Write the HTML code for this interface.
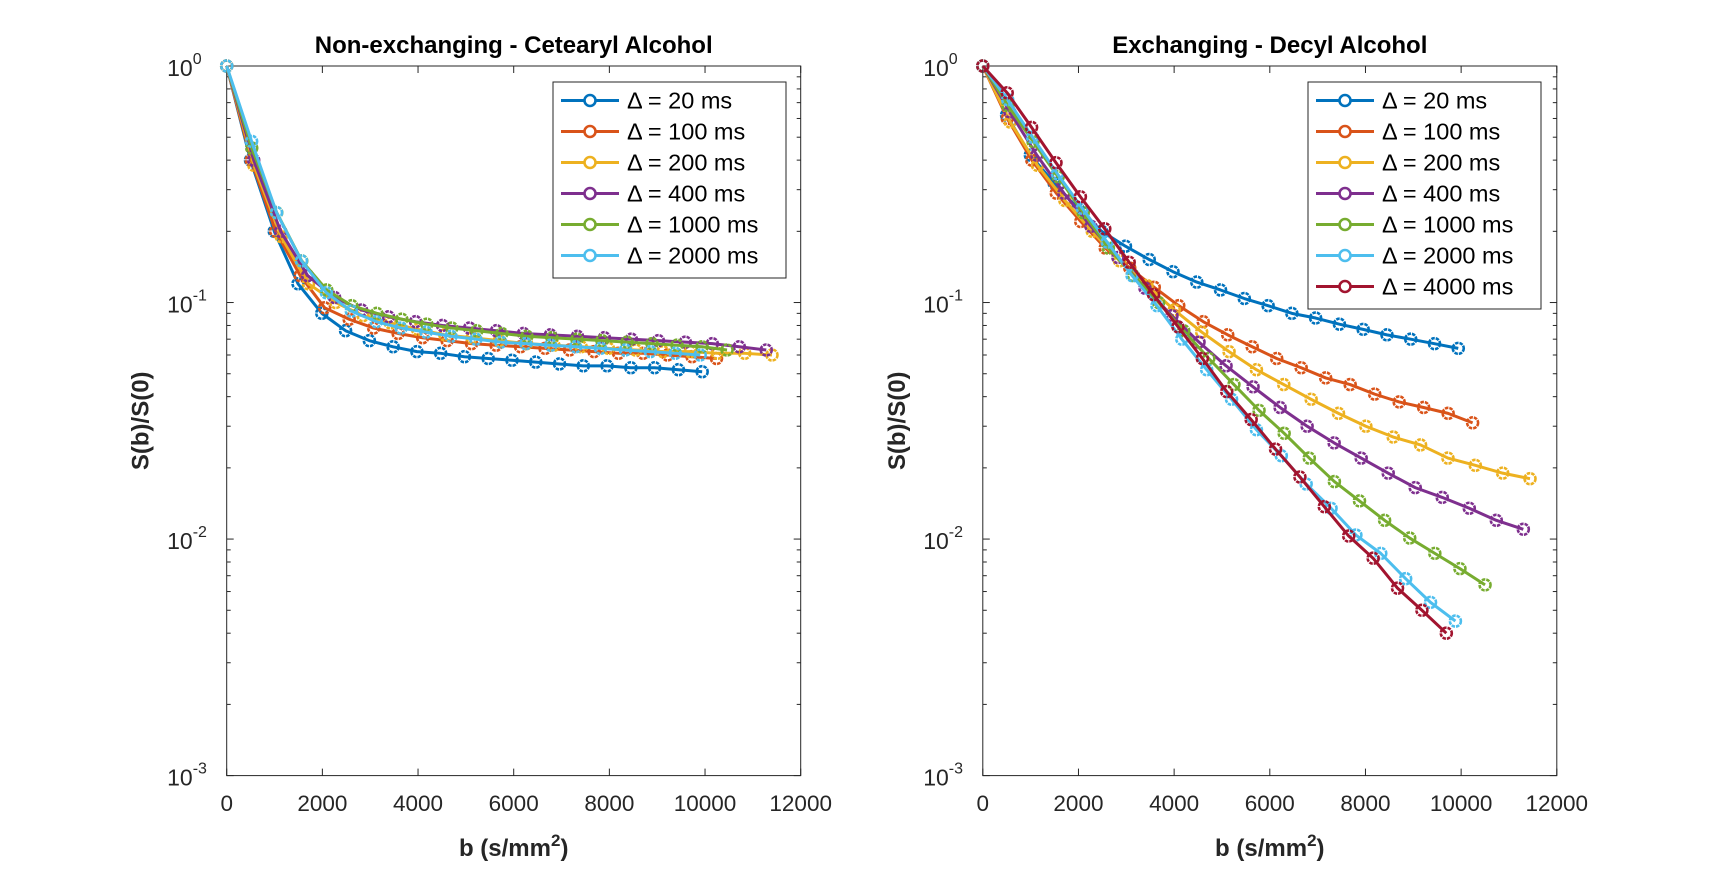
<!DOCTYPE html>
<html><head><meta charset="utf-8"><style>
body{margin:0;background:#fff;}
svg{display:block;font-family:"Liberation Sans",Arial,sans-serif;}
</style></head><body>
<svg id="fig" width="1720" height="876" viewBox="0 0 1720 876"></svg>
<script>
const colors=['#0072BD','#D95319','#EDB120','#7E2F8E','#77AC30','#4DBEEE','#A2142F'];
const labelsL=['Δ = 20 ms','Δ = 100 ms','Δ = 200 ms','Δ = 400 ms','Δ = 1000 ms','Δ = 2000 ms'];
const labelsR=['Δ = 20 ms','Δ = 100 ms','Δ = 200 ms','Δ = 400 ms','Δ = 1000 ms','Δ = 2000 ms','Δ = 4000 ms'];
const xTicks=[0,2000,4000,6000,8000,10000,12000];
const yTickExp=[0,-1,-2,-3];
const bStepL=[497,512,570,564,523,521];
const bStepR=[497,512,572,565,525,520,510];
const left0=[1,0.4,0.2,0.12,0.09,0.076,0.069,0.065,0.062,0.061,0.059,0.058,0.057,0.056,0.055,0.054,0.054,0.053,0.053,0.052,0.051];
const left1=[1,0.4,0.2,0.13,0.095,0.085,0.078,0.074,0.071,0.069,0.067,0.066,0.065,0.064,0.063,0.062,0.061,0.061,0.060,0.059,0.058];
const left2=[1,0.38,0.19,0.12,0.1,0.088,0.082,0.077,0.073,0.071,0.069,0.067,0.066,0.065,0.064,0.063,0.062,0.062,0.061,0.061,0.060];
const left3=[1,0.4,0.2,0.13,0.105,0.093,0.087,0.083,0.08,0.078,0.076,0.074,0.073,0.072,0.071,0.07,0.069,0.068,0.067,0.065,0.063];
const left4=[1,0.45,0.24,0.15,0.113,0.097,0.09,0.085,0.081,0.078,0.076,0.074,0.072,0.071,0.07,0.069,0.068,0.067,0.066,0.065,0.063];
const left5=[1,0.48,0.24,0.15,0.11,0.092,0.083,0.078,0.075,0.072,0.07,0.068,0.067,0.066,0.065,0.064,0.063,0.062,0.061,0.06];
const right0=[1,0.62,0.42,0.32,0.25,0.2,0.173,0.152,0.135,0.122,0.113,0.104,0.097,0.09,0.086,0.081,0.077,0.073,0.07,0.067,0.064];
const right1=[1,0.6,0.4,0.29,0.22,0.17,0.14,0.116,0.097,0.083,0.073,0.065,0.058,0.053,0.048,0.045,0.041,0.038,0.036,0.034,0.031];
const right2=[1,0.58,0.38,0.27,0.2,0.15,0.118,0.093,0.075,0.062,0.052,0.045,0.039,0.034,0.030,0.027,0.025,0.022,0.0205,0.019,0.018];
const right3=[1,0.64,0.42,0.29,0.21,0.155,0.115,0.088,0.068,0.054,0.044,0.036,0.030,0.0255,0.022,0.019,0.0165,0.015,0.0135,0.012,0.011];
const right4=[1,0.68,0.48,0.34,0.24,0.17,0.13,0.1,0.076,0.058,0.045,0.035,0.028,0.022,0.0175,0.0145,0.012,0.0101,0.0087,0.0075,0.0064];
const right5=[1,0.72,0.5,0.35,0.25,0.18,0.13,0.097,0.07,0.052,0.039,0.029,0.0225,0.0171,0.0135,0.0104,0.0087,0.0068,0.0054,0.0045];
const right6=[1,0.77,0.55,0.39,0.28,0.205,0.148,0.108,0.079,0.058,0.042,0.032,0.024,0.0183,0.0137,0.0103,0.0083,0.0062,0.005,0.004];
const seriesL=[left0,left1,left2,left3,left4,left5];
const seriesR=[right0,right1,right2,right3,right4,right5,right6];

const NS='http://www.w3.org/2000/svg';
const svg=document.getElementById('fig');
function mk(tag,attrs,parent){const e=document.createElementNS(NS,tag);for(const k in attrs)e.setAttribute(k,attrs[k]);(parent||svg).appendChild(e);return e;}

function panel(px0,title,series,steps,labels,legend,pname){
  const g=mk('g',{});
  
  
  const X0=px0,X1=px0+574,Y0=66,Y1=775.6;
  const xs=v=>X0+(v/12000)*(X1-X0);
  const ys=v=>Y0+(-Math.log10(v)/3)*(Y1-Y0);
  const box=mk('rect',{x:X0,y:Y0,width:X1-X0,height:Y1-Y0,fill:'#fff',stroke:'#262626','stroke-width':1},g);
  
  
  xTicks.forEach(t=>{
    const x=xs(t);
    mk('line',{x1:x,y1:Y1,x2:x,y2:Y1-7,stroke:'#262626'},g);
    mk('line',{x1:x,y1:Y0,x2:x,y2:Y0+7,stroke:'#262626'},g);
    const tx=mk('text',{x:x,y:811,'font-size':22.5,'text-anchor':'middle',fill:'#262626'},g);
    tx.textContent=t;
    
    
  });
  yTickExp.forEach(e=>{
    const y=ys(Math.pow(10,e));
    mk('line',{x1:X0,y1:y,x2:X0+7,y2:y,stroke:'#262626'},g);
    mk('line',{x1:X1,y1:y,x2:X1-7,y2:y,stroke:'#262626'},g);
    const tx=mk('text',{x:X0-34,y:y+10,'font-size':23,'text-anchor':'end',fill:'#262626'},g);
    tx.textContent='10';
    
    
    const sp=mk('text',{x:X0-34,y:y-2,'font-size':16,'text-anchor':'start',fill:'#262626'},g);
    sp.textContent=String(e);
    
    
    if(e>-3){for(let m=2;m<=9;m++){const yy=ys(m*Math.pow(10,e-1));
      mk('line',{x1:X0,y1:yy,x2:X0+4,y2:yy,stroke:'#262626'},g);
      mk('line',{x1:X1,y1:yy,x2:X1-4,y2:yy,stroke:'#262626'},g);}}
  });
  const tt=mk('text',{x:(X0+X1)/2,y:53,'font-size':24,'font-weight':'bold','text-anchor':'middle',fill:'#000'},g);
  tt.textContent=title;
  
  
  const xl=mk('text',{x:(X0+X1)/2,y:856,'font-size':24,'font-weight':'bold','text-anchor':'middle',fill:'#262626'},g);
  xl.innerHTML='b (s/mm<tspan dy="-10" font-size="17">2</tspan><tspan dy="10">)</tspan>';
  
  
  const yl=mk('text',{x:0,y:0,'font-size':24,'font-weight':'bold','text-anchor':'middle',fill:'#262626',transform:`translate(${X0-78},${(Y0+Y1)/2}) rotate(-90)`},g);
  yl.textContent='S(b)/S(0)';
  
  
  series.forEach((vals,i)=>{
    const sg=mk('g',{},g);
    
    
    const pts=vals.map((v,j)=>[xs(j*steps[i]),ys(v)]);
    mk('polyline',{points:pts.map(p=>p.join(',')).join(' '),fill:'none',stroke:colors[i],'stroke-width':3,'stroke-linejoin':'round'},sg);
    pts.forEach(p=>{const c=mk('circle',{cx:p[0],cy:p[1],r:5.5,fill:'none',stroke:colors[i],'stroke-width':2.6,'stroke-dasharray':'3.5 1'},sg);
      
      });
  });
  const lg=mk('g',{},g);
  
  
  mk('rect',{x:legend.x,y:82,width:legend.w,height:labels.length*31+10,fill:'#fff',stroke:'#262626','stroke-width':1},lg);
  labels.forEach((l,i)=>{
    const y=100.5+i*31;
    const eg=mk('g',{},lg);
    
    
    mk('line',{x1:legend.x+8,y1:y,x2:legend.x+66,y2:y,stroke:colors[i],'stroke-width':3},eg);
    mk('circle',{cx:legend.x+37,cy:y,r:5.5,fill:'#fff',stroke:colors[i],'stroke-width':2.6},eg);
    const t=mk('text',{x:legend.x+74,y:y+8,'font-size':23.5,fill:'#000'},eg);
    t.textContent=l;
  });
}
panel(226.7,'Non-exchanging - Cetearyl Alcohol',seriesL,bStepL,labelsL,{x:553,w:233},'left-panel');
panel(982.8,'Exchanging - Decyl Alcohol',seriesR,bStepR,labelsR,{x:1308,w:233},'right-panel');
</script>
</body></html>
